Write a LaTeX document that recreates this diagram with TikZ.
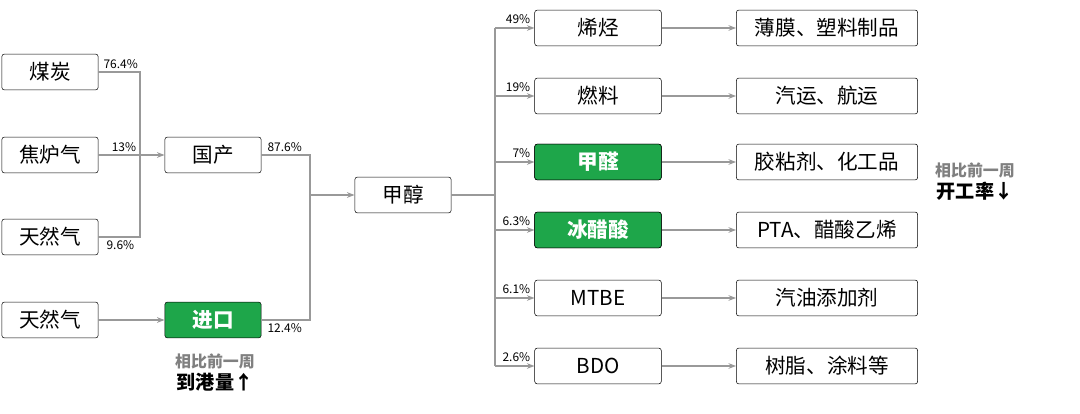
\documentclass[tikz,border=0pt]{standalone}
\usepackage{fontspec}
\setmainfont{Noto Sans CJK SC}
\usetikzlibrary{positioning,arrows.meta}
\definecolor{hlgreen}{HTML}{1EA64A}
\tikzset{
  box/.style={draw=black, rounded corners=2pt, minimum height=.95cm, inner sep=0pt, font=\fontsize{15.5}{18}\selectfont},
  lbox/.style={box, minimum width=2.55cm},
  rbox/.style={box, minimum width=3.35cm},
  fbox/.style={box, minimum width=4.8cm},
  hl/.style={fill=hlgreen, text=white, font=\fontsize{15.5}{18}\selectfont\bfseries},
  link/.style={draw=gray!80, thick},
  arr/.style={link, -{Stealth[length=2mm]}},
  pct/.style={font=\small, inner sep=1pt},
}
\begin{document}
\begin{tikzpicture}[x=0.026458cm, y=-0.026458cm]
  \useasboundingbox (0,0) rectangle (1080,414);
  % sources
  \node [lbox] (coal) at (50,72) {煤炭};
  \node [lbox] (coke) at (50,155) {焦炉气};
  \node [lbox] (gasA) at (50,237) {天然气};
  \node [lbox] (gasB) at (50,320) {天然气};
  \node [lbox] (dom) at (213,155) {国产};
  \node [lbox, hl] (imp) at (213,320) {进口};
  \node [lbox] (meoh) at (403,195) {甲醇};
  % products and uses
  \foreach \name/\txt/\use/\y in {olef/烯烃/薄膜、塑料制品/28, fuel/燃料/汽运、航运/96,
      hcho/甲醛/胶粘剂、化工品/162, acid/冰醋酸/PTA、醋酸乙烯/230,
      mtbe/MTBE/汽油添加剂/298, bdo/BDO/树脂、涂料等/366}{
    \node [rbox] (\name) at (598,\y) {\txt};
    \node [fbox] (\name u) at (827,\y) {\use};
    \draw [arr] (\name) -- (\name u);
  }
  \node [rbox, hl] at (hcho) {甲醛};
  \node [rbox, hl] at (acid) {冰醋酸};
  % left merges
  \coordinate (jA) at (140,155);
  \draw [link] (coal.east) -| (jA) |- (gasA.east);
  \draw [arr] (coke) -- (dom);
  \draw [arr] (gasB) -- (imp);
  \coordinate (jB) at (310,195);
  \draw [link] (dom.east) -| (jB) |- (imp.east);
  \draw [arr] (jB) -- (meoh);
  \coordinate (jC) at (495,195);
  \draw [link] (meoh) -- (jC);
  \draw [link] (jC |- olef) -- (jC |- bdo);
  \foreach \name in {olef,fuel,hcho,acid,mtbe,bdo}
    \draw [arr] (jC |- \name) -- (\name);
  % shares
  \node [pct, above right] at (102,70) {76.4\%};
  \node [pct, above] at (124,153) {13\%};
  \node [pct, below right] at (105,239) {9.6\%};
  \node [pct, above right] at (266,153) {87.6\%};
  \node [pct, below right] at (266,322) {12.4\%};
  \foreach \name/\p in {olef/49, fuel/19, hcho/7, acid/6.3, mtbe/6.1, bdo/2.6}
    \node [pct, above left] at ([xshift=-2pt, yshift=2pt]\name.west) {\p\%};
  % notes
  \node [font=\large\bfseries, text=gray] (noteA) at (215,361) {相比前一周};
  \node [font=\Large\bfseries, below=-4pt of noteA] {到港量↑};
  \node [font=\large\bfseries, text=gray] (noteB) at (975,170) {相比前一周};
  \node [font=\Large\bfseries, below=-4pt of noteB] {开工率↓};
\end{tikzpicture}
\end{document}
